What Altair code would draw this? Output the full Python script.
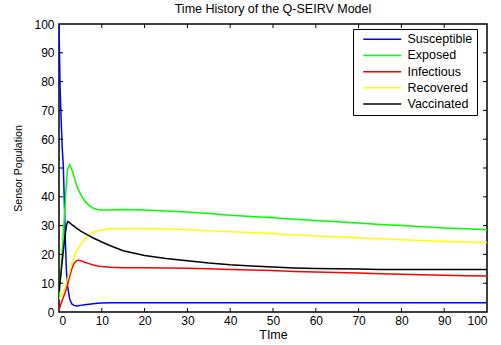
import altair as alt
import pandas as pd

time = [0, 0.25, 0.5, 0.75, 1, 1.25, 1.5, 1.75, 2, 2.5, 3, 3.5, 4, 4.5, 5, 6, 7, 8, 9, 10,
        12, 15, 20, 25, 30, 35, 40, 45, 50, 55, 60, 65, 70, 75, 80, 85, 90, 95, 100]

susceptible = [100, 78, 67, 57, 51, 38, 24, 14, 9, 4.5, 2.8, 2.3, 2.1, 2.2, 2.3, 2.5, 2.7, 2.9, 3.0, 3.1,
               3.2, 3.2, 3.2, 3.2, 3.2, 3.2, 3.2, 3.2, 3.2, 3.2, 3.2, 3.2, 3.2, 3.2, 3.2, 3.2, 3.2, 3.2, 3.2]
exposed = [5, 10, 15, 21, 27, 33, 39, 45, 49.5, 51.2, 49.5, 47, 44.5, 42.5, 41, 38.5, 37, 36, 35.6, 35.4,
           35.4, 35.6, 35.4, 35.1, 34.7, 34.2, 33.6, 33.2, 32.7, 32.2, 31.8, 31.3, 30.9, 30.4, 30.0, 29.6, 29.2, 28.9, 28.6]
infectious = [0.7, 1.8, 3, 4, 5, 6, 7, 8.2, 9.5, 12.5, 15, 16.8, 17.7, 18, 17.9, 17.3, 16.8, 16.3, 16, 15.8,
              15.5, 15.4, 15.4, 15.3, 15.2, 15, 14.8, 14.6, 14.4, 14.1, 13.9, 13.7, 13.5, 13.3, 13.1, 12.9, 12.8, 12.6, 12.5]
recovered = [4.5, 5, 5.5, 6.2, 7, 7.8, 9, 10.2, 11.5, 14, 16.8, 19, 20.8, 22.2, 23.3, 25.3, 26.7, 27.6, 28.2, 28.5,
             28.9, 29, 29, 28.8, 28.6, 28.2, 27.9, 27.6, 27.2, 26.8, 26.4, 26.1, 25.7, 25.4, 25.1, 24.8, 24.5, 24.3, 24.1]
vaccinated = [7, 10.5, 14, 17.5, 21, 24.5, 27.5, 30, 31.4, 31, 30.3, 29.8, 29.2, 28.7, 28.2, 27.3, 26.5, 25.7, 25, 24.3,
              23, 21.3, 19.6, 18.6, 17.8, 17, 16.4, 16, 15.6, 15.3, 15.1, 15, 14.9, 14.8, 14.8, 14.8, 14.8, 14.8, 14.8]

series_names = ["Susceptible", "Exposed", "Infectious", "Recovered", "Vaccinated"]
series_colors = ["#0000ff", "#00ff00", "#ff0000", "#ffff00", "#000000"]
x_ticks = [0, 10, 20, 30, 40, 50, 60, 70, 80, 90, 100]
y_ticks = [0, 10, 20, 30, 40, 50, 60, 70, 80, 90, 100]

rows = []
for name, vals in zip(series_names, [susceptible, exposed, infectious, recovered, vaccinated]):
    for t, v in zip(time, vals):
        rows.append({"t": t, "v": v, "series": name})
df = pd.DataFrame(rows)

W, H = 428, 288
FONT = "Liberation Sans"

xscale = alt.Scale(domain=[0, 100], nice=False)
yscale = alt.Scale(domain=[0, 100], nice=False)
x_axis = alt.Axis(values=x_ticks, ticks=False, domain=False, grid=False, title="TIme",
                  labelPadding=3, titlePadding=2, labelOverlap=False,
                  labelFontSize=12, titleFontSize=12.5)
y_axis = alt.Axis(values=y_ticks, ticks=False, domain=False, grid=False, title="Sensor Population",
                  labelPadding=5, titlePadding=10, labelOverlap=False,
                  labelFontSize=12, titleFontSize=10.6)

lines = alt.Chart(df).mark_line(strokeWidth=1.5, clip=True).encode(
    x=alt.X("t:Q", scale=xscale, axis=x_axis),
    y=alt.Y("v:Q", scale=yscale, axis=y_axis),
    color=alt.Color("series:N",
                    scale=alt.Scale(domain=series_names, range=series_colors),
                    legend=alt.Legend(title=None, orient="none", legendX=294, legendY=5,
                                      symbolType="M0,0H7.6", symbolSize=100, symbolStrokeWidth=1.5,
                                      labelFont=FONT, labelFontSize=12.5, labelColor="#000000",
                                      strokeColor="#000000", fillColor="#ffffff",
                                      padding=4, rowPadding=3.2, labelOffset=38)),
    order=alt.Order("t:Q"),
)

tick_df_x = pd.DataFrame({"tv": x_ticks[1:-1]})
tick_df_y = pd.DataFrame({"tv": y_ticks[1:-1]})

xt_bottom = alt.Chart(tick_df_x).mark_rule(color="black", strokeWidth=1).encode(
    x=alt.X("tv:Q", scale=xscale, axis=x_axis), y=alt.value(H), y2=alt.value(H - 4))
xt_top = alt.Chart(tick_df_x).mark_rule(color="black", strokeWidth=1).encode(
    x=alt.X("tv:Q", scale=xscale, axis=x_axis), y=alt.value(0), y2=alt.value(4))
yt_left = alt.Chart(tick_df_y).mark_rule(color="black", strokeWidth=1).encode(
    y=alt.Y("tv:Q", scale=yscale, axis=y_axis), x=alt.value(0), x2=alt.value(4))
yt_right = alt.Chart(tick_df_y).mark_rule(color="black", strokeWidth=1).encode(
    y=alt.Y("tv:Q", scale=yscale, axis=y_axis), x=alt.value(W), x2=alt.value(W - 4))

chart = alt.layer(lines, xt_bottom, xt_top, yt_left, yt_right).properties(
    width=W, height=H,
    background="#ffffff",
    title=alt.TitleParams("Time History of the Q-SEIRV Model", font=FONT, fontSize=12.5,
                          fontWeight="normal", anchor="middle", offset=3, color="#000000"),
    autosize=alt.AutoSizeParams(type="none"),
    padding={"left": 59, "top": 24, "right": 14, "bottom": 33},
).configure_view(stroke="#000000", strokeWidth=1.5).configure_axis(
    labelFont=FONT, labelColor="#000000",
    titleFont=FONT, titleFontWeight="normal", titleColor="#000000",
)

chart.save("out.html", embed_options={"renderer": "svg", "actions": False})
